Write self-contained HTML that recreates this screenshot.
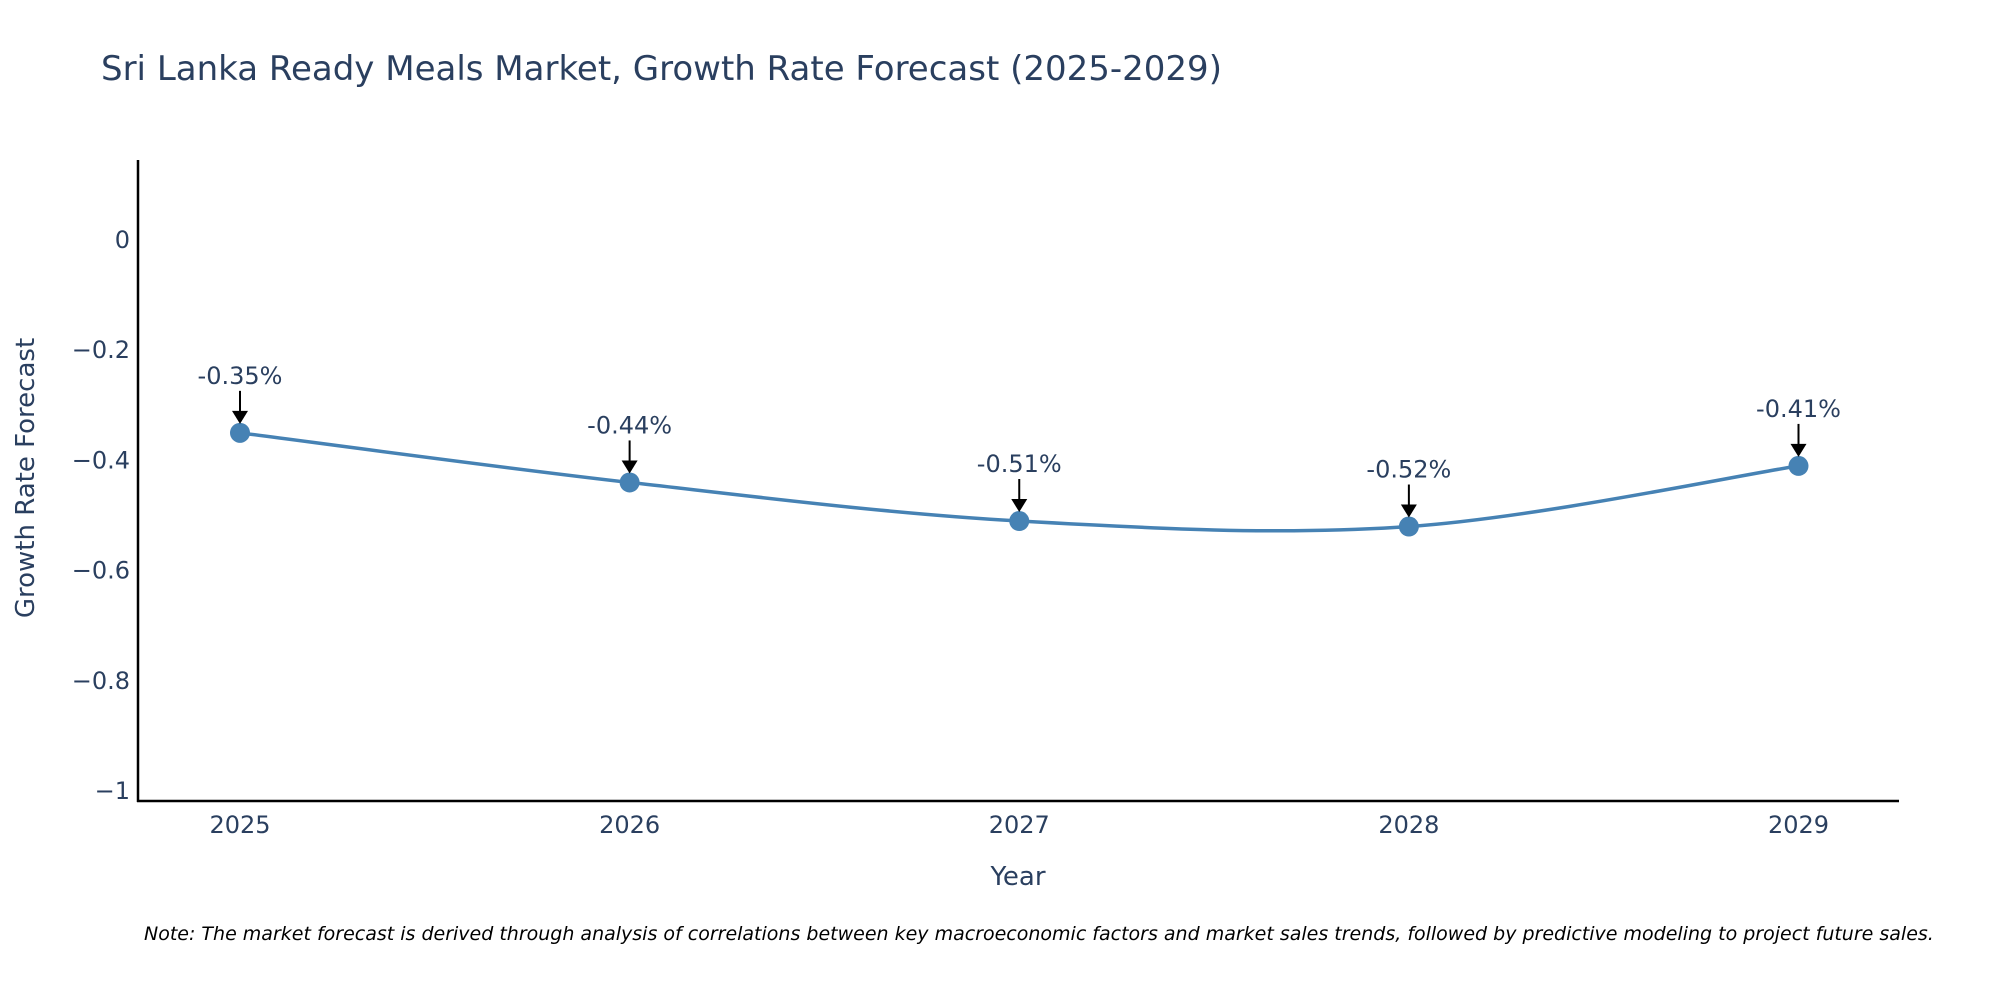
<!DOCTYPE html>
<html><head><meta charset="utf-8"><style>
html,body{margin:0;padding:0;background:#fff;}
svg{display:block;font-family:"DejaVu Sans","Liberation Sans",sans-serif;}
</style></head><body>
<svg id="chart" width="2000" height="1000" viewBox="0 0 2000 1000">
<text x="101" y="80" font-size="34" fill="#2a3f5f">Sri Lanka Ready Meals Market, Growth Rate Forecast (2025-2029)</text>
<g id="yticks"></g>
<g id="xticks"></g>
<line x1="138" y1="160" x2="138" y2="802" stroke="#000" stroke-width="2.5"/>
<line x1="137" y1="801" x2="1899" y2="801" stroke="#000" stroke-width="2.5"/>
<path id="line" fill="none" stroke="#4682b4" stroke-width="3.5"/>
<g id="points"></g>
<g id="annos"></g>
<text x="1018" y="885" font-size="26" fill="#2a3f5f" text-anchor="middle">Year</text>
<text transform="translate(34,478) rotate(-90)" font-size="26" fill="#2a3f5f" text-anchor="middle">Growth Rate Forecast</text>
<text x="144" y="940" font-size="19" font-style="italic" fill="#000">Note: The market forecast is derived through analysis of correlations between key macroeconomic factors and market sales trends, followed by predictive modeling to project future sales.</text>
</svg>
<script>
const years = [2025, 2026, 2027, 2028, 2029];
const growth = [-0.35, -0.44, -0.51, -0.52, -0.41];
const labels = ["-0.35%", "-0.44%", "-0.51%", "-0.52%", "-0.41%"];
const yTickVals = [0, -0.2, -0.4, -0.6, -0.8, -1];
const yTickLabels = ["0", "\u22120.2", "\u22120.4", "\u22120.6", "\u22120.8", "\u22121"];

const NS = "http://www.w3.org/2000/svg";
function xs(v){ return 240 + (v - 2025) * (1798.5 - 240) / 4; }
function ys(v){ return 240 + (0 - v) * (791 - 240); }
function mk(tag, attrs, parent){ const e = document.createElementNS(NS, tag); for (const k in attrs) e.setAttribute(k, attrs[k]); parent.appendChild(e); return e; }

const yt = document.getElementById('yticks');
yTickVals.forEach((v, i) => {
  const t = mk('text', {x: 130, y: ys(v) + 8, 'font-size': 24, fill: '#2a3f5f', 'text-anchor': 'end'}, yt);
  
  
  t.textContent = yTickLabels[i];
});
const xt = document.getElementById('xticks');
years.forEach(y => {
  const t = mk('text', {x: xs(y), y: 833, 'font-size': 24, fill: '#2a3f5f', 'text-anchor': 'middle'}, xt);
  
  
  t.textContent = y;
});

const P = years.map((y, i) => [xs(y), ys(growth[i])]);
let d = 'M' + P[0][0] + ',' + P[0][1];
const s = 1/6;
for (let i = 0; i < P.length - 1; i++) {
  const p0 = P[Math.max(0, i-1)], p1 = P[i], p2 = P[i+1], p3 = P[Math.min(P.length-1, i+2)];
  const c1 = [p1[0] + (p2[0]-p0[0])*s, p1[1] + (p2[1]-p0[1])*s];
  const c2 = [p2[0] - (p3[0]-p1[0])*s, p2[1] - (p3[1]-p1[1])*s];
  d += ' C' + c1[0] + ',' + c1[1] + ' ' + c2[0] + ',' + c2[1] + ' ' + p2[0] + ',' + p2[1];
}
document.getElementById('line').setAttribute('d', d);

const pts = document.getElementById('points');
const an = document.getElementById('annos');
P.forEach((p, i) => {
  const c = mk('circle', {cx: p[0], cy: p[1], r: 10, fill: '#4682b4'}, pts);
  
  
  const l = mk('line', {x1: p[0], y1: p[1] - 42, x2: p[0], y2: p[1] - 20, stroke: '#000', 'stroke-width': 2}, an);
  
  
  const h = mk('path', {d: `M${p[0]-8},${p[1]-22} L${p[0]+8},${p[1]-22} L${p[0]},${p[1]-9} Z`, fill: '#000'}, an);
  
  
  const t = mk('text', {x: p[0], y: p[1] - 49, 'font-size': 24, fill: '#2a3f5f', 'text-anchor': 'middle'}, an);
  
  
  t.textContent = labels[i];
});
</script>
</body></html>
